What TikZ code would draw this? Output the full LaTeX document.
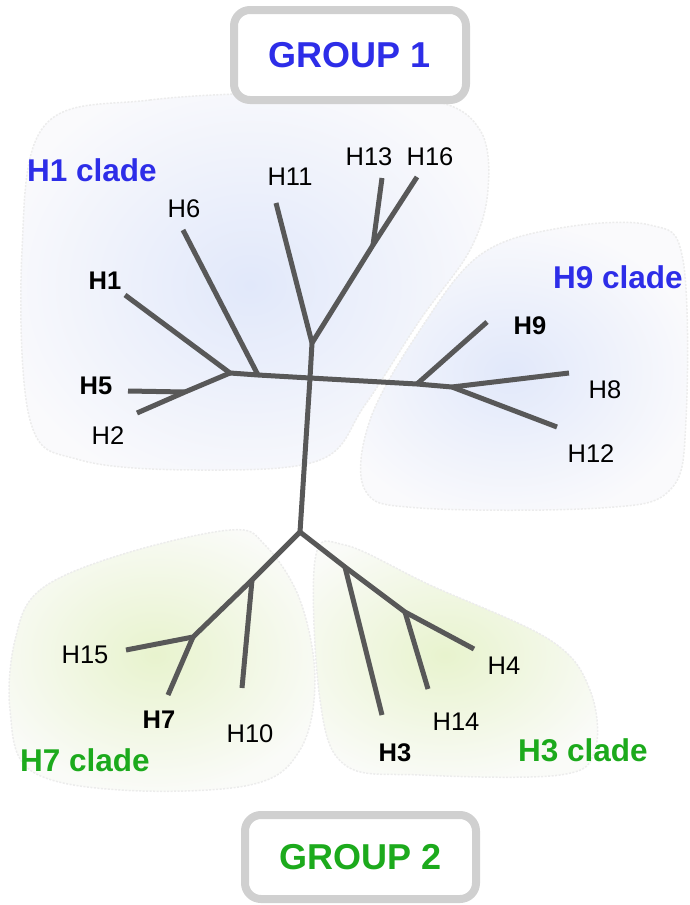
\documentclass[tikz,border=0pt]{standalone}
\usepackage{fontspec}
\setmainfont{Liberation Sans}
\definecolor{grpblue}{RGB}{45,45,232}
\definecolor{grpgreen}{RGB}{28,170,28}
\definecolor{branch}{RGB}{88,88,88}
\definecolor{boxgray}{RGB}{208,208,208}
\definecolor{blobA}{RGB}{250,250,252}
\definecolor{blobB}{RGB}{250,251,248}
\definecolor{glowblue}{RGB}{225,232,250}
\definecolor{glowgreen}{RGB}{232,243,206}
\definecolor{blobedge}{RGB}{236,236,236}
\tikzset{
  groupbox/.style={draw=boxgray, line width=8pt, rounded corners=16pt, fill=white,
    inner sep=0pt, font=\fontsize{36}{40}\selectfont\bfseries},
  leaf/.style={inner sep=0pt, font=\fontsize{25.5}{30}\selectfont},
  bleaf/.style={leaf, font=\fontsize{25.5}{30}\selectfont\bfseries},
  clade/.style={inner sep=0pt, font=\fontsize{31.5}{36}\selectfont\bfseries},
  br/.style={draw=branch, line width=5pt, line join=round},
  blob/.style={draw=blobedge, line width=1.5pt, dash pattern=on 2pt off 1.5pt},
}
\begin{document}
\begin{tikzpicture}[x=1pt,y=-1pt]
\useasboundingbox (0,0) rectangle (689,905);
% ---- clade backgrounds ----
\filldraw[blob, fill=blobA, path picture={\shade[inner color=glowblue, outer color=blobA] (250,285) ellipse (260 and 220);}]
  plot[smooth cycle, tension=0.6] coordinates {(45,125) (150,100) (300,93) (430,100) (480,130) (488,190) (470,250) (420,320) (365,405) (320,460) (200,470) (80,460) (30,420) (22,250)};
\filldraw[blob, fill=blobA, path picture={\shade[inner color=glowblue, outer color=blobA] (510,375) ellipse (190 and 150);}]
  plot[smooth cycle, tension=0.6] coordinates {(370,420) (420,330) (480,255) (560,228) (650,225) (683,260) (686,420) (670,490) (600,508) (420,508) (365,490)};
\filldraw[blob, fill=blobB, path picture={\shade[inner color=glowgreen, outer color=blobB] (155,655) ellipse (180 and 140);}]
  plot[smooth cycle, tension=0.6] coordinates {(15,640) (40,590) (120,555) (230,530) (265,545) (300,600) (315,680) (300,750) (250,785) (120,790) (30,770) (10,710)};
\filldraw[blob, fill=blobB, path picture={\shade[inner color=glowgreen, outer color=blobB] (445,655) ellipse (180 and 130);}]
  plot[smooth cycle, tension=0.6] coordinates {(315,560) (345,545) (430,585) (550,640) (590,690) (595,750) (560,775) (420,775) (345,765) (320,700)};
% ---- group boxes ----
\node[groupbox, text=grpblue, minimum width=232pt, minimum height=90pt] (g1) at (350,55) {GROUP 1};
\node[groupbox, text=grpgreen, minimum width=231pt, minimum height=84pt] (g2) at (360.5,857) {GROUP 2};
% ---- tree coordinates ----
\coordinate (c0) at (310,378);
\coordinate (A) at (230,373);
\coordinate (B) at (258,375);
\coordinate (C) at (185,392);
\coordinate (D) at (312,343);
\coordinate (E) at (373,245);
\coordinate (F) at (417,384);
\coordinate (G) at (452,387);
\coordinate (R) at (300,532);
\coordinate (J) at (252,580);
\coordinate (K) at (193,637);
\coordinate (L) at (345,567);
\coordinate (M) at (405,612);
\coordinate (lH1) at (125,295);
\coordinate (lH6) at (183,230);
\coordinate (lH5) at (128,391);
\coordinate (lH2) at (137,413);
\coordinate (lH11) at (276,203);
\coordinate (lH13) at (382,178);
\coordinate (lH16) at (417,177);
\coordinate (lH9) at (487,322);
\coordinate (lH8) at (569,373);
\coordinate (lH12) at (557,427);
\coordinate (lH10) at (242,688);
\coordinate (lH15) at (126,650);
\coordinate (lH7) at (168,695);
\coordinate (lH3) at (382,715);
\coordinate (lH4) at (474,649);
\coordinate (lH14) at (428,689);
% ---- branches ----
\draw[br] (A) -- (B) -- (c0) -- (F) -- (G) -- (lH8);
\draw[br] (G) -- (lH12);
\draw[br] (F) -- (lH9);
\draw[br] (A) -- (lH1);
\draw[br] (B) -- (lH6);
\draw[br] (A) -- (C) -- (lH2);
\draw[br] (C) -- (lH5);
\draw[br] (R) -- (c0) -- (D) -- (lH11);
\draw[br] (D) -- (E) -- (lH16);
\draw[br] (E) -- (lH13);
\draw[br] (R) -- (J) -- (K) -- (lH15);
\draw[br] (K) -- (lH7);
\draw[br] (J) -- (lH10);
\draw[br] (R) -- (L) -- (M) -- (lH4);
\draw[br] (L) -- (lH3);
\draw[br] (M) -- (lH14);
% ---- leaf labels ----
\node[leaf] (tH13) at (369,157) {H13};
\node[leaf] (tH16) at (430,157) {H16};
\node[leaf] (tH11) at (290,177) {H11};
\node[leaf] (tH6) at (184,209) {H6};
\node[bleaf] (tH1) at (105,281) {H1};
\node[bleaf] (tH5) at (96,386) {H5};
\node[leaf] (tH2) at (108,436) {H2};
\node[bleaf] (tH9) at (530,326) {H9};
\node[leaf] (tH8) at (605,390) {H8};
\node[leaf] (tH12) at (591,454) {H12};
\node[leaf] (tH15) at (85,655) {H15};
\node[bleaf] (tH7) at (159,720) {H7};
\node[leaf] (tH10) at (250,734) {H10};
\node[leaf] (tH4) at (504,666) {H4};
\node[leaf] (tH14) at (456,722) {H14};
\node[bleaf] (tH3) at (395,753) {H3};
% ---- clade labels ----
\node[clade, text=grpblue] (cH1) at (92,170) {H1 clade};
\node[clade, text=grpblue] (cH9) at (618,277) {H9 clade};
\node[clade, text=grpgreen] (cH7) at (85,760) {H7 clade};
\node[clade, text=grpgreen] (cH3) at (583,750) {H3 clade};
\end{tikzpicture}
\end{document}
